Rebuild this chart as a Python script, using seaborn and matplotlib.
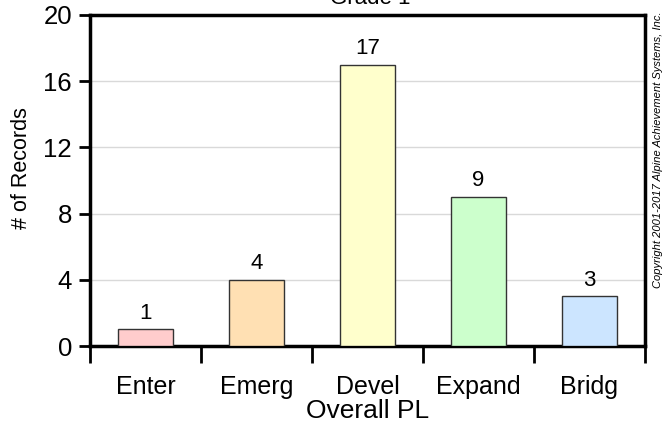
import numpy as np
import pandas as pd
import seaborn as sns
import matplotlib.pyplot as plt

categories = ["Enter", "Emerg", "Devel", "Expand", "Bridg"]
counts = [1, 4, 17, 9, 3]
bar_colors = ["#FFCCCC", "#FFE0B3", "#FFFFCC", "#CCFFCC", "#CCE5FF"]
y_ticks = [0, 4, 8, 12, 16, 20]

df = pd.DataFrame({"PL": categories, "Records": counts})

sns.set_theme(style="white")
plt.rcParams["font.family"] = ["Liberation Sans", "DejaVu Sans"]
plt.rcParams.update({"text.color": "black", "axes.labelcolor": "black",
                     "xtick.color": "black", "ytick.color": "black"})

fig = plt.figure(figsize=(6.67, 4.3), dpi=100)
ax = fig.add_axes([90 / 667, 1 - 346 / 430, (645 - 90) / 667, (346 - 15) / 430])

sns.barplot(data=df, x="PL", y="Records", hue="PL", palette=bar_colors,
            legend=False, width=0.5, edgecolor="#333333", linewidth=1,
            saturation=1, ax=ax, zorder=3)

for i, v in enumerate(counts):
    ax.text(i, v + 0.35, str(v), ha="center", va="bottom", fontsize=16)

ax.set_xlim(-0.5, 4.5)
ax.set_ylim(0, 20)
ax.set_yticks(y_ticks)
ax.yaxis.grid(True, color="#D9D9D9", linewidth=1, zorder=0)
ax.set_axisbelow(True)

ax.set_xticks(np.arange(len(categories)))
ax.set_xticks(np.arange(-0.5, len(categories)), minor=True)
ax.tick_params(axis="x", which="major", length=0, labelsize=18, pad=21)
ax.tick_params(axis="x", which="minor", length=12, width=2, color="black",
               direction="out", bottom=True)
ax.tick_params(axis="y", length=8, width=2, color="black", labelsize=18.5,
               direction="out", left=True, pad=5)

for s in ax.spines.values():
    s.set_visible(True)
    s.set_color("black")
    s.set_linewidth(2.5)

ax.set_xlabel("Overall PL", fontsize=19, labelpad=0)
ax.set_ylabel("# of Records", fontsize=15.5)
ax.yaxis.set_label_coords(-0.105, 0.538)

fig.text(0.555, 1 - 4 / 430, "Grade 1", ha="center", va="baseline", fontsize=16)
fig.text(0.987, 1 - 150 / 430, "Copyright 2001-2017 Alpine Achievement Systems, Inc.",
         rotation=90, ha="center", va="center", fontsize=8, style="italic")

fig.savefig("out.png", dpi=100)
